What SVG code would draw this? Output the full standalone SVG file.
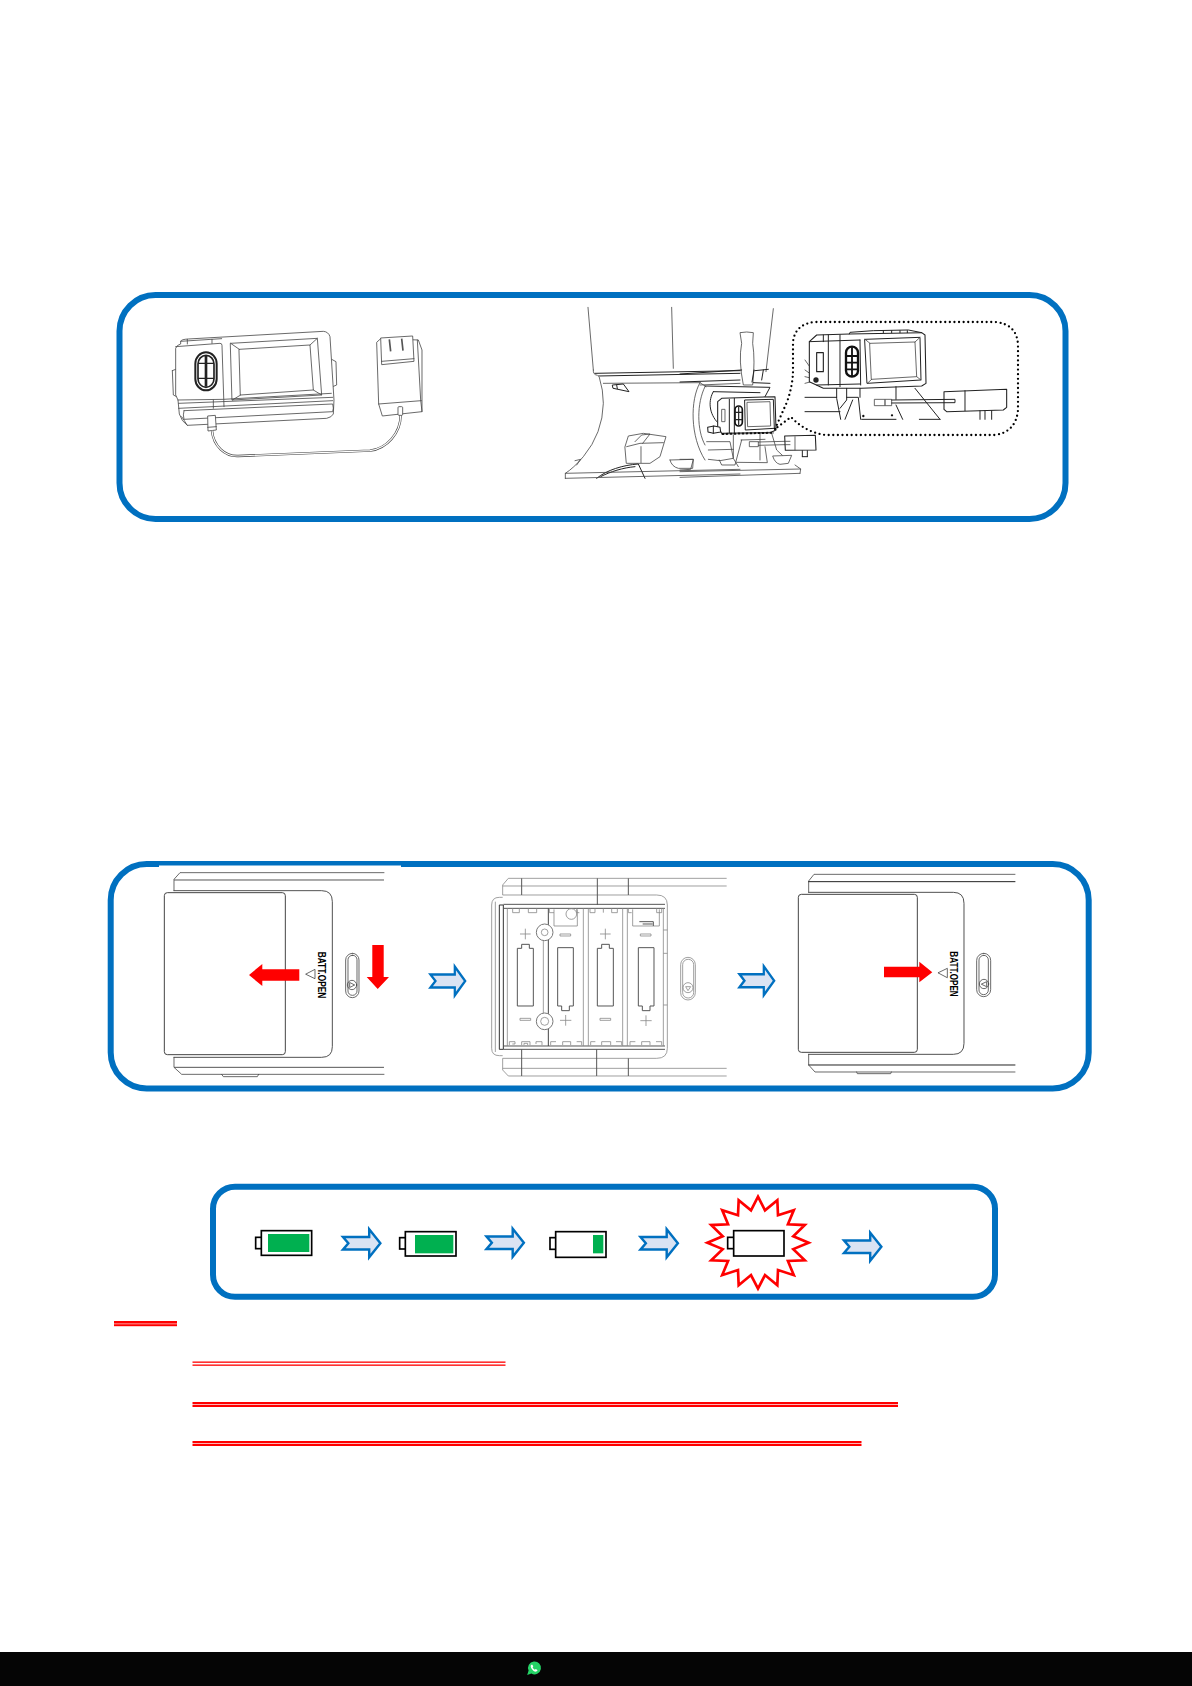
<svg xmlns="http://www.w3.org/2000/svg" width="1192" height="1686" viewBox="0 0 1192 1686">
<style>
.panel{fill:#fff;stroke:#0070c0;stroke-width:6}
.l{fill:none;stroke:#444;stroke-width:2.4;stroke-linejoin:round;stroke-linecap:round}
.lw{fill:#fff;stroke:#444;stroke-width:2.4;stroke-linejoin:round}
.k{fill:none;stroke:#222;stroke-width:3;stroke-linejoin:round;stroke-linecap:round}
.kw{fill:#fff;stroke:#222;stroke-width:3.2;stroke-linejoin:round}
.g{fill:none;stroke:#888;stroke-width:2.4;stroke-linejoin:round}
.gd{fill:none;stroke:#555;stroke-width:3;stroke-linejoin:round}
.red{fill:#ff0000;stroke:none}
.flow{fill:#dae3f3;stroke:#0070c0;stroke-width:2.5;stroke-linejoin:miter}
.batt{fill:#fff;stroke:#000;stroke-width:5}
.green{fill:#00b050}
.under{fill:#ff0000}
.label{font-family:"Liberation Sans",Arial,sans-serif;font-weight:700;font-size:33px;fill:#000;text-anchor:middle}
</style>
<defs>
<polygon id="flow" points="0,-6.3 27,-6.3 27,-14 38.5,0 27,14 27,6.3 0,6.3 5.5,0"/>
</defs>
<rect width="1192" height="1686" fill="#fff"/>

<g id="panel-charge">
<rect class="panel" x="119.5" y="295" width="946" height="224" rx="36" ry="36"/>
</g>

<g id="device" transform="translate(110 280) scale(.33333)">
<path class="l" d="M187 272 L197 268 M187 272 L190 345 L200 350"/>
<path class="l" d="M665 238 L678 245 L680 315 L668 320"/>
<path class="lw" d="M197 205 Q200 195 212 192 L212 184 Q214 178 235 177 L640 154 Q655 155 660 170 L672 360 L670 402 Q665 412 650 415 L232 436 Q215 425 208 402 L204 360 L197 345 Z"/>
<path class="l" d="M197 200 L330 190 Q336 190 336 196 L342 380 M212 184 L335 176 M204 360 L340 358 L664 340 M206 385 L668 362 M206 370 L668 352 M222 392 L668 372 Q672 385 668 395 L222 418 Q218 405 222 392 M215 410 L232 436"/>
<path class="l" d="M232 178 L232 192 M306 178 L306 190 M310 360 L310 385"/>
<path class="l" d="M362 190 L622 175 L635 345 L367 360 Z M388 208 L600 195 L610 330 L392 345 Z M362 190 L388 208 M622 175 L600 195 M635 345 L610 330 M367 360 L392 345"/>
<rect x="256" y="217" width="64" height="114" rx="32" ry="34" fill="#fff" stroke="#222" stroke-width="6"/>
<rect x="264" y="226" width="48" height="96" rx="24" ry="26" fill="none" stroke="#222" stroke-width="5"/>
<path d="M288 226 V320" stroke="#222" stroke-width="8" fill="none"/>
<path d="M264 250 H312 M264 295 H312" stroke="#222" stroke-width="4" fill="none"/>
<path class="lw" d="M293 408 L316 406 L319 450 L294 453 Z"/>
<path class="l" d="M293 442 L319 440"/>
<path d="M306 452 C310 498 345 530 385 528 L780 512 C830 506 872 460 872 405" fill="none" stroke="#444" stroke-width="7"/>
<path d="M306 452 C310 498 345 530 385 528 L780 512 C830 506 872 460 872 405" fill="none" stroke="#fff" stroke-width="3.5"/>
<path class="lw" d="M800 187 L812 176 L925 180 L936 210 L936 395 L817 408 L806 372 Z"/>
<path class="lw" d="M812 174 L908 168 L912 244 L815 254 Z"/>
<path class="l" d="M815 244 L912 236 M806 372 L934 362 M922 180 L932 360 L936 395"/>
<path d="M838 178 L842 214 M875 176 L879 212" stroke="#555" stroke-width="5" fill="none"/>
<rect class="lw" x="864" y="380" width="14" height="26" rx="3"/>
</g>

<g id="speaker" transform="translate(560 300) scale(.33333)">
<path class="l" d="M84 22 L100 210 M335 22 L340 205 M640 26 L618 215"/>
<path class="l" d="M100 210 Q98 224 112 226 M118 232 Q130 270 130 310 Q128 400 70 470 Q40 505 16 520 L16 535 M45 482 L62 478 L50 495"/>
<path class="k" d="M105 220 L540 212 M115 228 L540 220 M584 212 L625 208"/>
<path class="l" d="M130 250 L420 248 M420 255 L540 250"/>
<path class="k" d="M158 255 L190 252 L207 275 L160 265 Z M170 255 L172 266"/>
<path class="l" d="M195 440 L205 408 L250 400 L318 410 L300 470 L270 490 L200 490 Z M200 440 L240 430 L310 428 M243 440 L243 488 M225 425 L245 405 L270 402 L248 430"/>
<path class="k" d="M110 535 C140 510 190 495 235 492 L255 535 M122 530 C150 515 190 503 225 500"/>
<path class="l" d="M330 480 L400 478 L398 505 L355 505 Q335 500 330 480"/>
<path class="lw" d="M540 98 Q560 94 580 98 L578 130 Q586 180 578 255 L550 255 Q535 180 545 130 Z"/>
<path class="l" d="M16 520 L540 508 M16 535 L540 522"/>
</g>

<g id="unit-small" transform="translate(680 370) scale(.33333)">
<path class="l" d="M60 38 C30 90 30 200 75 270 M75 50 C50 100 50 180 75 225 M60 38 L78 50"/>
<path class="k" d="M100 65 C85 90 85 130 115 160 M75 48 L270 52 L255 80 M100 65 L240 68"/>
<path class="k" d="M0 12 L185 0 M0 36 L180 30 M220 38 L270 40 M222 0 L216 36 M250 0 L245 30"/>
<path class="l" d="M80 215 L150 215 L160 265 L120 272 L85 268 M85 240 L160 238"/>
<path class="l" d="M118 270 L125 285 L165 285 L185 210 M160 195 L160 265 L175 290 M240 188 L240 270 M183 210 L255 208 M170 277 L262 278 L255 230 M275 190 L290 240 L320 268"/>
<path class="lw" d="M278 258 L335 256 L325 280 L300 283 Q285 280 278 258"/>
<path class="l" d="M0 268 L40 268 L32 298 L0 300 M0 305 L362 297 M0 322 L360 310 M345 285 L362 297 L360 310"/>
<path class="kw" d="M113 95 L125 85 L285 80 L288 180 L270 188 L125 190 L113 170 Z"/>
<path class="k" d="M148 88 L148 188 M163 85 L163 190"/>
<path d="M125 192 L282 188" stroke="#111" stroke-width="6" stroke-dasharray="8 4" fill="none"/>
<path class="k" d="M195 90 L280 88 L283 175 L197 180 Z"/>
<path class="l" d="M202 97 L270 95 L272 168 L204 170 Z"/>
<rect x="165" y="108" width="22" height="60" rx="11" fill="#fff" stroke="#111" stroke-width="5"/>
<path d="M176 110 V166 M166 127 H186 M166 149 H186" stroke="#222" stroke-width="3.5"/>
<rect class="lw" x="125" y="118" width="10" height="37"/>
<path class="kw" d="M83 172 L102 168 L120 172 L122 186 L100 190 L84 186 Z"/>
<path class="k" d="M100 168 V190"/>
<path class="lw" d="M208 215 L235 215 L235 230 L208 230 Z"/>
<path class="l" d="M235 216 L315 214 M235 226 L315 224"/>
<path class="kw" d="M314 198 L406 196 L408 240 L316 241 Z"/>
<path class="l" d="M345 200 L345 240 M315 214 L330 214 M315 224 L330 224"/>
<path class="k" d="M367 242 L367 260 M382 242 L382 260 M367 260 L382 260"/>
</g>

<g id="callout">
<path d="M775 429 L787 402 Q793 385 793 370 L793 342 Q795 324 815 322 L995 322 Q1017 324 1018 345 L1018 410 Q1016 432 995 435 L825 435 Q805 432 791 417 Z" fill="none" stroke="#000" stroke-width="2.3" stroke-linecap="round" stroke-dasharray="0 4.6"/>
</g>

<g id="inset" transform="translate(790 320) scale(.33333)">
<path class="l" d="M45 120 L80 170 M45 150 L80 175 M45 190 L75 182 M45 170 L78 178"/>
<path class="kw" d="M58 65 L80 45 L178 42 L395 38 L405 45 L408 190 L395 198 L215 205 L100 205 L58 185 Z"/>
<path class="k" d="M115 45 L115 195 M150 45 L150 200 M210 60 L212 195 M58 65 L210 60 M80 195 L210 192 M100 45 L100 65 M178 42 L180 37 L250 32 L355 30 L395 38 M280 32 V38 M305 32 V38 M330 32 V38 M352 32 V38"/>
<path class="k" d="M225 58 L390 52 L393 180 L232 190 Z"/>
<path class="l" d="M240 70 L375 66 L380 170 L245 178 Z M225 58 L240 70 M390 52 L375 66 M393 180 L380 170 M232 190 L245 178"/>
<rect x="168" y="80" width="36" height="90" rx="18" fill="#fff" stroke="#111" stroke-width="7"/>
<path d="M186 82 V168 M170 108 H202 M170 128 H202 M170 148 H202" stroke="#111" stroke-width="5.5"/>
<rect class="lw" x="80" y="98" width="20" height="57" style="stroke:#222;stroke-width:3.4"/>
<circle cx="78" cy="180" r="8" fill="#222"/>
<path class="k" d="M45 232 L140 232 M45 275 L150 275 M140 205 L140 235 L152 298 M170 205 L170 240 L150 265 M170 232 L205 232 L212 298 M210 205 L210 232 M188 240 L165 298 M318 200 L318 238 M318 255 L338 298 M215 298 L318 298 M388 298 L450 298 M375 205 L450 298"/>
<path class="kw" d="M462 215 L650 208 L650 262 L640 270 L470 275 L462 268 Z"/>
<path class="k" d="M525 212 L525 272 M570 272 L570 298 M585 272 L585 298 M605 272 L605 298"/>
<path class="lw" d="M253 238 L305 238 L305 257 L253 257 Z"/>
<path class="k" d="M285 240 L285 255 M305 240 L495 238 L495 248 L305 249"/>
<circle cx="220" cy="288" r="3.5" fill="#111"/><circle cx="306" cy="286" r="3.5" fill="#111"/>
</g>

<g id="panel-battery">
<rect class="panel" x="110.7" y="864" width="978" height="224.5" rx="36" ry="36"/>
<rect x="159" y="865.5" width="242" height="3" fill="#fff"/>
</g>

<g id="cover-open" transform="translate(100 850) scale(.33333)">
<path class="l" d="M222 122 L222 88 L240 68 L852 68"/>
<path class="gd" d="M222 90 L852 90"/>
<path class="l" d="M222 622 L222 652 L245 673 L852 673"/>
<path class="gd" d="M222 652 L852 652"/>
<path class="l" d="M365 673 L370 680 L472 680 L476 673"/>
<path class="k" style="stroke:#444;stroke-width:2.8" d="M222 122 L665 122 Q697 122 697 155 L697 590 Q697 622 665 622 L222 622"/>
<rect class="lw" x="193" y="128" width="363" height="486" rx="9" style="stroke-width:3"/>
<polygon class="l" points="618,372 645,358 645,385"/>
<text class="label" transform="translate(655 375) rotate(90)" textLength="140" lengthAdjust="spacingAndGlyphs">BATT.OPEN</text>
<rect class="l" x="737" y="310" width="40" height="133" rx="20"/>
<rect class="l" x="744" y="316" width="27" height="120" rx="13"/>
<circle class="l" cx="756" cy="405" r="14"/>
<polygon class="l" points="750,398 764,405 750,412"/>
</g>

<g id="compartment" transform="translate(480 860) scale(.33333)">
<path class="g" d="M68 105 L68 75 L85 55 L740 55 M68 78 L740 78 M68 105 L530 105 Q562 105 562 135 L562 565 Q562 595 530 595 L68 595 L68 630 L85 648 L740 648 M68 625 L740 625"/>
<path class="gd" d="M125 55 V105 M352 55 V135 M445 55 V105 M125 568 V648 M350 568 V648 M445 595 V648"/>
<path class="g" d="M68 112 L58 112 Q35 112 35 135 L35 565 Q35 587 58 587 L68 587 M46 125 L46 576"/>
<path d="M58 135 H70 V568 H58 Z" fill="none" stroke="#333" stroke-width="3"/>
<path class="gd" d="M70 133 H555 M70 145 H555 M70 558 H555 M70 568 H555"/>
<path class="g" d="M82 145 V558 M310 145 V558 M325 145 V558 M428 145 V558 M442 145 V558 M550 145 V558 M190 240 V460 M550 210 H562 M550 435 H562 M550 280 H562"/>
<path d="M205 145 V558" stroke="#444" stroke-width="3" fill="none"/>
<path class="g" d="M98 145 V158 H118 V145 M145 145 V158 H170 V145 M208 145 V158 H222 M290 145 V158 H298 M330 145 V158 H345 V145 M370 145 V158 M395 145 V158 H412 V145 M445 145 V158 H455 M530 145 V158 H545 V145"/>
<path class="g" d="M222 148 V198 H292 V148 M458 148 V198 H538 V148"/>
<circle class="g" cx="274" cy="162" r="16"/>
<path class="gd" d="M478 185 H520 V198 M488 192 H518"/>
<path class="g" d="M88 555 V545 H105 V552 H97 M125 555 V545 H150 V555 M132 555 V550 H143 V555 M168 552 V545 H186 V555 M212 555 V545 H228 M248 555 V545 H272 V555 M290 545 H305 V555 M332 555 V545 H346 M365 555 V545 H392 V555 M408 545 H425 V555 M450 555 V545 H466 M485 555 V545 H510 V555 M528 545 H545 V555"/>
<circle cx="194" cy="217" r="25" fill="#fff" stroke="#777" stroke-width="3"/><circle class="g" cx="194" cy="217" r="10"/>
<circle cx="194" cy="484" r="25" fill="#fff" stroke="#777" stroke-width="3"/><circle class="g" cx="194" cy="484" r="12"/>
<path class="gd" d="M112 265 H125 V253 H148 V265 H160 V438 H112 Z"/>
<path class="gd" d="M352 265 H365 V253 H388 V265 H400 V438 H352 Z"/>
<path class="gd" d="M233 263 H280 V438 H268 V452 H245 V438 H233 Z"/>
<path class="gd" d="M475 263 H522 V438 H510 V452 H487 V438 H475 Z"/>
<path class="g" d="M120 222 H152 M136 206 V238 M360 222 H392 M376 206 V238 M240 481 H274 M257 465 V497 M481 482 H515 M498 466 V498 M240 222 H272 V228 H240 Z M481 222 H513 V228 H481 Z M120 475 H152 V481 H120 Z M360 475 H392 V481 H360 Z"/>
<rect class="g" x="602" y="292" width="44" height="128" rx="22"/>
<rect class="g" x="608" y="298" width="33" height="116" rx="16"/>
<circle class="g" cx="624" cy="383" r="15"/>
<polygon class="g" points="617,380 632,380 624,392"/>
</g>

<g id="cover-closed" transform="translate(760 850) scale(.33333)">
<path class="l" d="M146 127 L146 93 L162 73 L765 73"/>
<path class="k" d="M146 95 L765 95 M146 645 L765 645"/>
<path class="l" d="M146 613 L146 645 L165 666 L765 666 M290 666 L292 671 L392 671 L394 666"/>
<path class="k" style="stroke:#444;stroke-width:2.8" d="M146 127 L580 127 Q612 127 612 160 L612 580 Q612 613 580 613 L146 613"/>
<rect class="lw" x="115" y="133" width="357" height="474" rx="9" style="stroke-width:3"/>
<polygon class="l" points="535,368 562,355 562,382"/>
<text class="label" transform="translate(571 372) rotate(90)" textLength="136" lengthAdjust="spacingAndGlyphs">BATT.OPEN</text>
<rect class="l" x="650" y="310" width="42" height="130" rx="21"/>
<rect class="l" x="657" y="316" width="28" height="118" rx="14"/>
<circle class="l" cx="672" cy="402" r="14"/>
<polygon class="l" points="665,402 680,395 680,409"/>
</g>

<g id="panel-levels">
<rect class="panel" x="213" y="1186.7" width="782" height="110" rx="22" ry="22"/>
</g>

<g id="level-full" transform="translate(200 1170) scale(.33333)">
<rect class="batt" x="167" y="202" width="19" height="34"/>
<rect class="batt" x="184" y="182" width="151" height="74"/>
<rect class="green" x="204" y="192" width="124" height="54"/>
</g>
<g id="level-high" transform="translate(200 1170) scale(.33333)">
<rect class="batt" x="599" y="203" width="19" height="34"/>
<rect class="batt" x="616" y="185" width="152" height="73"/>
<rect class="green" x="645" y="195" width="115" height="55"/>
</g>
<g id="level-low" transform="translate(200 1170) scale(.33333)">
<rect class="batt" x="1050" y="203" width="19" height="35"/>
<rect class="batt" x="1067" y="185" width="151" height="77"/>
<rect class="green" x="1179" y="195" width="31" height="55"/>
</g>
<g id="level-empty" transform="translate(620 1170) scale(.33333)">
<polygon fill="#fff" stroke="#ff0000" stroke-width="8" points="414,80 435,121 472,90.5 474,135.7 521.5,120.4 503.8,163 554.4,165.2 519.9,198.7 566,218 519.9,237.3 554.4,270.8 503.8,273 521.5,315.6 474,300.3 472,345.5 435,315.1 414,356 393,315.1 356,345.5 354,300.3 306.5,315.6 324.2,273 273.6,270.8 308.1,237.3 262,218 308.1,198.7 273.6,165.2 324.2,163 306.5,120.4 354,135.7 356,90.5 393,121"/>
<rect class="batt" x="323" y="202" width="19" height="34"/>
<rect class="batt" x="341" y="182" width="151" height="76"/>
</g>

<g id="connectors">
<polygon class="red" points="249,975 262.3,964 262.3,969.3 299.3,969.3 299.3,980.7 262.3,980.7 262.3,986"/>
<polygon class="red" points="372.3,945 383.7,945 383.7,977 389,977 377.7,989 366.7,977 372.3,977"/>
<polygon class="red" points="884,966.7 919.3,966.7 919.3,961.7 932.3,972.3 919.3,982.3 919.3,977.3 884,977.3"/>
<use href="#flow" class="flow" transform="translate(430.5 981) scale(.9 1.03)"/>
<use href="#flow" class="flow" transform="translate(739.5 980.7) scale(.9 1.03)"/>
<use href="#flow" class="flow" transform="translate(343 1243.3) scale(.97 1)"/>
<use href="#flow" class="flow" transform="translate(486.5 1242.7) scale(.97 1)"/>
<use href="#flow" class="flow" transform="translate(640.5 1243.3) scale(.97 1)"/>
<use href="#flow" class="flow" transform="translate(844 1246.7) scale(.97 1)"/>
</g>

<g id="underlines">
<rect class="under" x="114" y="1321" width="63" height="2.6"/><rect class="under" x="114" y="1324.2" width="63" height="2"/>
<rect class="under" x="192.5" y="1361.5" width="313" height="1.3"/><rect class="under" x="192.5" y="1364.5" width="313" height="1.3"/>
<rect class="under" x="192.5" y="1402" width="705.5" height="2.3"/><rect class="under" x="192.5" y="1405" width="705.5" height="2"/>
<rect class="under" x="192.5" y="1441" width="669" height="2.3"/><rect class="under" x="192.5" y="1444" width="669" height="2"/>
</g>

<g id="footer">
<rect x="0" y="1652" width="1192" height="34" fill="#050505"/>
<path d="M527.2 1675 L528.6 1670.6 A6.5 6.5 0 1 1 531.4 1673.6 Z" fill="#25d366"/>
<path d="M531.3 1664.8 C530.4 1665.8 530.6 1667.3 531.8 1669 C533 1670.8 534.8 1671.9 536.1 1671.6 C537 1671.4 537.5 1670.7 537.4 1670 L535.8 1669 L534.9 1669.7 C533.9 1669.3 533 1668.2 532.6 1667.3 L533.3 1666.4 L532.4 1664.7 Z" fill="#fff"/>
</g>
</svg>
